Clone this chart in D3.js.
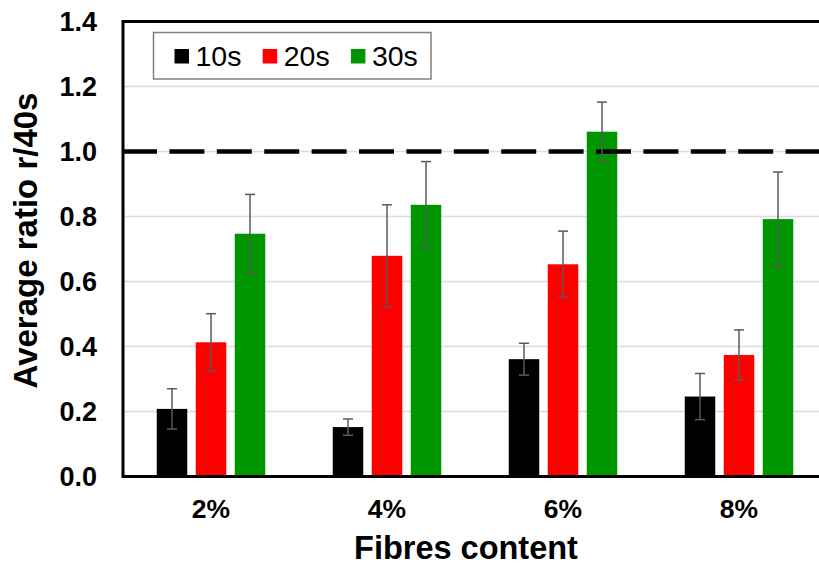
<!DOCTYPE html>
<html>
<head>
<meta charset="utf-8">
<script src="https://cdn.jsdelivr.net/npm/d3@7"></script>
<style>
  html, body { margin: 0; padding: 0; background: #fff; }
  svg { display: block; font-family: "Liberation Sans", Arial, sans-serif; }
</style>
</head>
<body>
<svg id="chart" width="819" height="565"></svg>
<script>
// Fibre content groups and the three exposure series
const categories = ["2%", "4%", "6%", "8%"];
const seriesNames = ["10s", "20s", "30s"];
const seriesColors = ["#000000", "#ff0000", "#009600"];

// Average ratio r/40s for each series, per fibre content
const values10s = [0.208, 0.152, 0.361, 0.246];
const values20s = [0.413, 0.679, 0.653, 0.374];
const values30s = [0.747, 0.836, 1.061, 0.792];

// Standard deviations (error bar half-lengths)
const err10s = [0.062, 0.025, 0.049, 0.071];
const err20s = [0.088, 0.157, 0.102, 0.077];
const err30s = [0.121, 0.133, 0.091, 0.145];

const yTicks = [0, 0.2, 0.4, 0.6, 0.8, 1.0, 1.2, 1.4];
const referenceLevel = [1.0];

const seriesValues = [values10s, values20s, values30s];
const seriesErrors = [err10s, err20s, err30s];

const svg = d3.select("#chart");

const plot = { left: 123, top: 21.5, bottom: 476.5, right: 827 };

const y = d3.scaleLinear().domain([0, 1.4]).range([plot.bottom, plot.top]);
const x0 = d3.scaleBand().domain(categories).range([plot.left, plot.right]);
const x1 = d3.scaleBand().domain(seriesNames)
  .range([29.5, 146.5]).paddingInner(0.218).paddingOuter(0.109);

// Horizontal gridlines
svg.append("g")
  .selectAll("line")
  .data(yTicks.filter(d => d > 0))
  .join("line")
  .attr("x1", plot.left).attr("x2", plot.right)
  .attr("y1", d => y(d)).attr("y2", d => y(d))
  .attr("stroke", "#dcdcdc").attr("stroke-width", 1.5);

// Flatten to one record per bar
const records = [];
categories.forEach((c, i) => {
  seriesNames.forEach((s, j) => {
    records.push({ cat: c, series: s, color: seriesColors[j],
                   value: seriesValues[j][i], err: seriesErrors[j][i] });
  });
});

// Bars
svg.append("g")
  .selectAll("rect")
  .data(records)
  .join("rect")
  .attr("x", d => x0(d.cat) + x1(d.series))
  .attr("width", x1.bandwidth())
  .attr("y", d => y(d.value))
  .attr("height", d => y(0) - y(d.value))
  .attr("fill", d => d.color);

// Dashed reference line at ratio 1.0
svg.append("g")
  .selectAll("line")
  .data(referenceLevel)
  .join("line")
  .attr("x1", plot.left - 1).attr("x2", plot.right)
  .attr("y1", d => y(d)).attr("y2", d => y(d))
  .attr("stroke", "#000").attr("stroke-width", 4.5)
  .attr("stroke-dasharray", "35,12.4");

// Error bars
const eb = svg.append("g")
  .attr("stroke", "#5a5a5a").attr("stroke-width", 1.5)
  .selectAll("g")
  .data(records)
  .join("g")
  .attr("transform", d => `translate(${x0(d.cat) + x1(d.series) + x1.bandwidth() / 2},0)`);
eb.append("line")
  .attr("y1", d => y(d.value - d.err)).attr("y2", d => y(d.value + d.err));
eb.append("line")
  .attr("x1", -5).attr("x2", 5)
  .attr("y1", d => y(d.value + d.err)).attr("y2", d => y(d.value + d.err));
eb.append("line")
  .attr("x1", -5).attr("x2", 5)
  .attr("y1", d => y(d.value - d.err)).attr("y2", d => y(d.value - d.err));

// Plot frame
svg.append("rect")
  .attr("x", plot.left).attr("y", plot.top)
  .attr("width", plot.right - plot.left).attr("height", plot.bottom - plot.top)
  .attr("fill", "none").attr("stroke", "#000").attr("stroke-width", 3);

// Y axis labels
const yAxis = svg.append("g")
  .attr("transform", `translate(${plot.left},0)`)
  .call(d3.axisLeft(y).tickValues(yTicks).tickFormat(d3.format(".1f"))
        .tickSize(0).tickPadding(26));
yAxis.select(".domain").remove();
yAxis.selectAll("text")
  .attr("font-family", "Liberation Sans, Arial, sans-serif")
  .attr("font-size", 27).attr("font-weight", "bold").attr("fill", "#000");

// X axis labels
const xAxis = svg.append("g")
  .attr("transform", `translate(0,${plot.bottom})`)
  .call(d3.axisBottom(x0).tickSize(0).tickPadding(23));
xAxis.select(".domain").remove();
xAxis.selectAll("text")
  .attr("font-family", "Liberation Sans, Arial, sans-serif")
  .attr("font-size", 26.5).attr("font-weight", "bold").attr("fill", "#000");

// Axis titles
svg.append("text")
  .attr("x", 466).attr("y", 559)
  .attr("text-anchor", "middle")
  .attr("font-size", 32.5).attr("font-weight", "bold")
  .text("Fibres content");

svg.append("text")
  .attr("transform", "translate(37,240.5) rotate(-90)")
  .attr("text-anchor", "middle")
  .attr("font-size", 33).attr("font-weight", "bold")
  .text("Average ratio r/40s");

// Legend
const legend = svg.append("g");
legend.append("rect")
  .attr("x", 153.5).attr("y", 32.5).attr("width", 277.5).attr("height", 46.5)
  .attr("fill", "#fff").attr("stroke", "#7f7f7f").attr("stroke-width", 1.5);
const items = legend.selectAll("g.item")
  .data(seriesNames)
  .join("g")
  .attr("class", "item")
  .attr("transform", (d, i) => `translate(${174.5 + i * 88.2},0)`);
items.append("rect")
  .attr("x", 0).attr("y", 49).attr("width", 14.5).attr("height", 14.5)
  .attr("fill", (d, i) => seriesColors[i]);
items.append("text")
  .attr("x", 21).attr("y", 65.5)
  .attr("font-size", 28.5)
  .text(d => d);
</script>
</body>
</html>
